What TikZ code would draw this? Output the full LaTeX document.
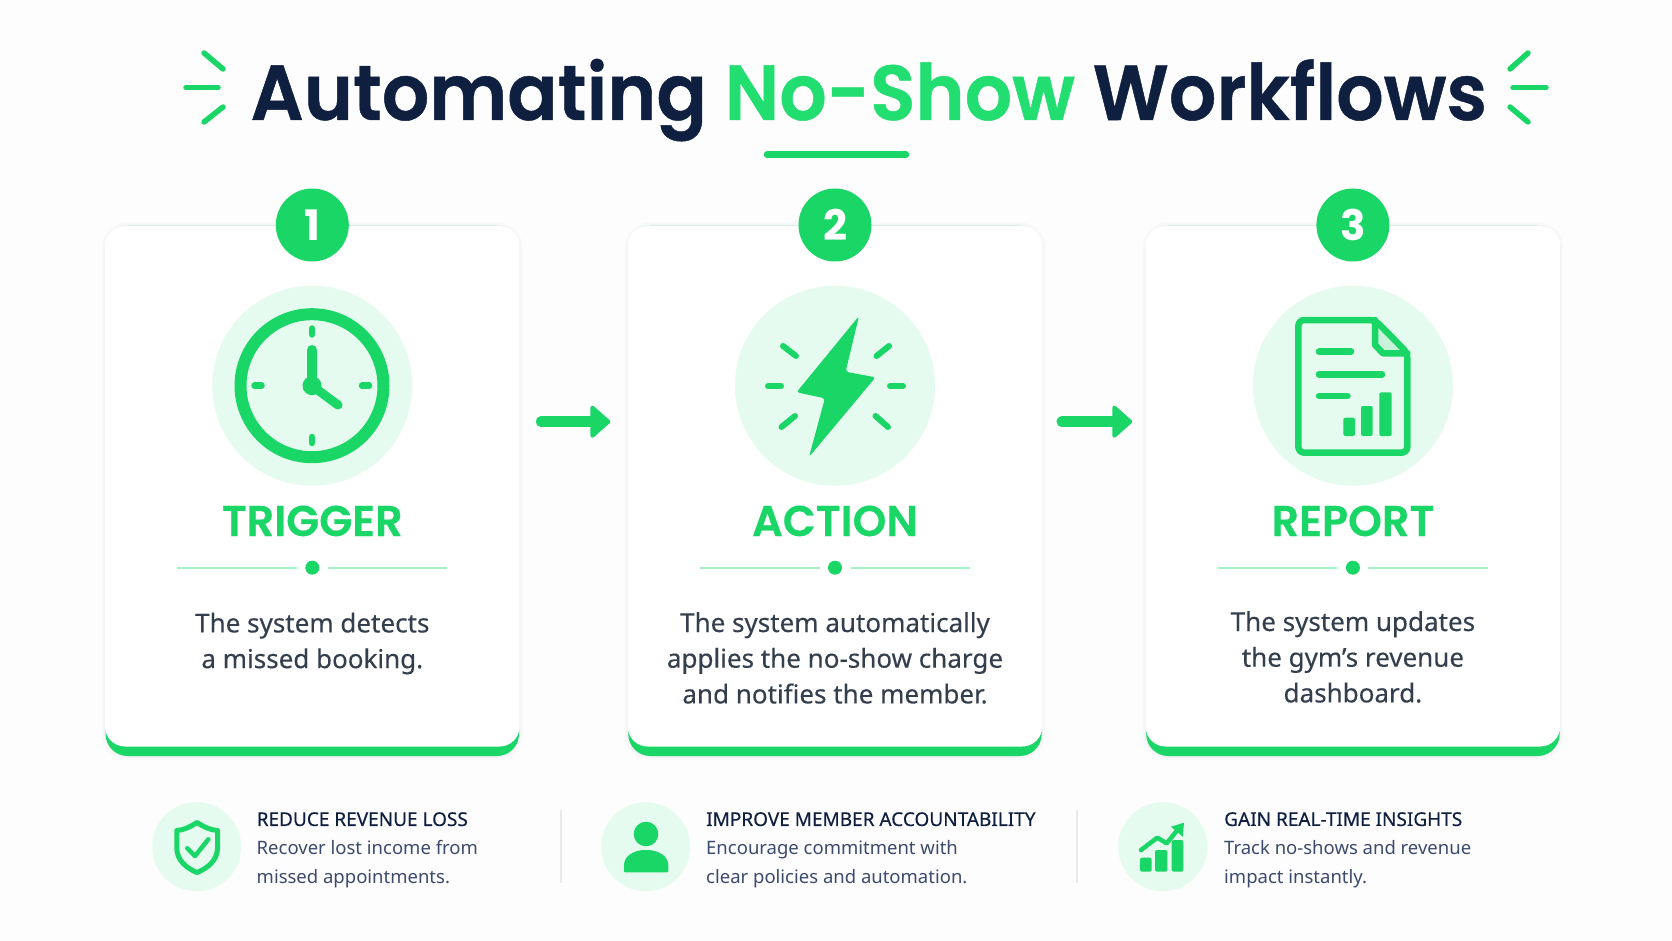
\documentclass[tikz,border=0pt]{standalone}
\usepackage{fontspec}
\usetikzlibrary{arrows.meta,positioning}
\setmainfont[FakeBold=0.2]{Noto Sans}
\newfontfamily\sidefont{Noto Sans}
\newfontfamily\sideheadfont[FakeBold=0.35]{Noto Sans}
\newfontfamily\headfont[FakeBold=0.4]{Poppins SemiBold}
\newfontfamily\titlefont[FakeBold=0.6,FakeStretch=0.954]{Poppins SemiBold}
\newfontfamily\numfont{Poppins}
\definecolor{pagebg}{HTML}{FDFDFE}
\definecolor{mint}{HTML}{1AD666}
\definecolor{titlemint}{HTML}{22DE70}
\definecolor{palemint}{HTML}{E6FBEF}
\definecolor{rulemint}{HTML}{A5F0C5}
\definecolor{foldmint}{HTML}{C8F2D9}
\definecolor{navy}{HTML}{0F1F40}
\definecolor{bodygray}{HTML}{343F4E}
\definecolor{sidetext}{HTML}{3C4A6B}
\definecolor{cardline}{HTML}{F0F1F3}
\definecolor{cardsoft}{HTML}{F8F8FA}
\tikzset{
    cardedge/.style={rectangle,draw=cardline,line width=2.5pt,fill=white,rounded corners=22pt,minimum width=413.4pt,minimum height=530pt,inner sep=0pt,outer sep=0pt,preaction={draw=cardsoft,line width=7pt}},
    cardbase/.style={rectangle,fill=mint,rounded corners=22pt,minimum width=413.4pt,minimum height=530pt,inner sep=0pt,outer sep=0pt},
    cardface/.style={rectangle,fill=white,rounded corners=20pt,minimum width=414.6pt,minimum height=520.5pt,inner sep=0pt,outer sep=0pt},
    numdot/.style={circle,fill=mint,text=white,minimum size=73pt,inner sep=0pt,font=\numfont\bfseries\fontsize{42}{42}\selectfont},
    iconback/.style={circle,fill=palemint,minimum size=200pt,inner sep=0pt},
    smallback/.style={circle,fill=palemint,minimum size=89pt,inner sep=0pt},
    stephead/.style={anchor=base,text=mint,font=\headfont\fontsize{43}{43}\selectfont},
    stepbody/.style={align=center,text=bodygray,font=\fontsize{26}{35.7}\selectfont},
    sidebody/.style={anchor=north west,align=left,inner sep=0pt,text=sidetext,font=\sidefont\fontsize{18.5}{29}\selectfont},
    ink/.style={draw=mint,line cap=round,line join=round},
    flowarrow/.style={ink,line width=10.5pt,-{Triangle[length=21pt,width=36pt,line width=4pt,round]}},
}
\begin{document}
\begin{tikzpicture}[x=1pt,y=-1pt]
    \fill[pagebg] (0,0) rectangle (1672,941);
    \useasboundingbox (0,0) rectangle (1672,941);

    \node[anchor=base,inner sep=0pt,text=navy,font=\titlefont\fontsize{78}{78}\selectfont] (title) at (868.8,120) {Automating {\color{titlemint}No-Show} Workflows};
    \draw[ink,line width=6.5pt] (767,154.7) -- (906,154.7);

    \draw[ink,line width=5.5pt] (204,53) -- (223,69);
    \draw[ink,line width=5.5pt] (186,87.7) -- (218,87.7);
    \draw[ink,line width=5.5pt] (223,107) -- (204,122);
    \draw[ink,line width=5.5pt] (1528,53) -- (1510,69);
    \draw[ink,line width=5.5pt] (1513,87.7) -- (1546,87.7);
    \draw[ink,line width=5.5pt] (1510,107) -- (1528,122);

    \foreach \cx/\nm/\lab in {312.3/1/TRIGGER,835/2/ACTION,1352.9/3/REPORT}{
        \node[cardedge] (card\nm) at (\cx,491) {};
        \node[cardbase] (base\nm) at (\cx,491) {};
        \node[cardface] (face\nm) at (\cx,486.25) {};
        \node[numdot] (num\nm) at (\cx,225) {\nm};
        \node[iconback] (icon\nm) at (\cx,385.7) {};
        \node[stephead] (head\nm) at (\cx,536) {\lab};
        \fill[mint] (\cx,567.7) circle (7pt);
        \draw[rulemint,line width=2pt] (\cx-135,567.7) -- (\cx-15.5,567.7);
        \draw[rulemint,line width=2pt] (\cx+15.5,567.7) -- (\cx+135,567.7);
    }

    \draw[flowarrow,shorten <=22pt,shorten >=18pt] ([yshift=69.3pt]card1.east) -- ([yshift=69.3pt]card2.west);
    \draw[flowarrow,shorten <=20pt,shorten >=14pt] ([yshift=69.3pt]card2.east) -- ([yshift=69.3pt]card3.west);

    \node[stepbody] (text1) at (312.3,643.5) {The system detects\\a missed booking.};
    \node[stepbody] (text2) at (835,658) {The system automatically\\applies the no-show charge\\and notifies the member.};
    \node[stepbody] (text3) at (1352.9,657) {The system updates\\the gym's revenue\\dashboard.};

    \draw[ink,line width=12pt] (312,385.7) circle (71.5pt);
    \draw[ink,line width=6.5pt] (312,328.5) -- (312,334.5);
    \draw[ink,line width=6.5pt] (312,437) -- (312,443);
    \draw[ink,line width=6.5pt] (254.5,385.7) -- (261.5,385.7);
    \draw[ink,line width=6.5pt] (362,385.7) -- (369,385.7);
    \draw[ink,line width=10pt] (312,385.7) -- (312,350);
    \draw[ink,line width=9pt] (312,385.7) -- (338,405);
    \fill[mint] (312,385.7) circle (9.5pt);

    \fill[mint,rounded corners=3pt] (859,316) -- (796.5,392.3) -- (824.9,398.3) -- (809,457) -- (875.5,377.3) -- (845.6,371.7) -- cycle;
    \draw[ink,line width=6pt] (783,346) -- (796,356);
    \draw[ink,line width=6pt] (889,346) -- (876.5,356);
    \draw[ink,line width=6pt] (768,386) -- (781,386);
    \draw[ink,line width=6pt] (890,386) -- (903,386);
    \draw[ink,line width=6pt] (781.5,427) -- (795,416);
    \draw[ink,line width=6pt] (888,427) -- (875.5,416);

    \fill[foldmint] (1375,320) -- (1407.4,353.3) -- (1383,353.3) -- (1375,345) -- cycle;
    \draw[ink,line width=6.5pt,rounded corners=6pt] (1298.3,320) -- (1375,320) -- (1407.4,353) -- (1407.4,452.7) -- (1298.3,452.7) -- cycle;
    \draw[ink,line width=6.5pt] (1375,320) -- (1375,345) -- (1383,353.3) -- (1407.4,353.3);
    \draw[ink,line width=6.5pt] (1319,351.7) -- (1351,351.7);
    \draw[ink,line width=6.5pt] (1319,374.3) -- (1382,374.3);
    \draw[ink,line width=6.5pt] (1319,396) -- (1347.5,396);
    \fill[mint,rounded corners=2pt] (1343.3,417.7) rectangle (1355,436);
    \fill[mint,rounded corners=2pt] (1361,406) rectangle (1372.7,436);
    \fill[mint,rounded corners=2pt] (1379.3,392.3) rectangle (1391.7,436);

    \node[smallback] (small1) at (196.7,846.7) {};
    \node[smallback] (small2) at (645.7,846.7) {};
    \node[smallback] (small3) at (1162.7,846.7) {};

    \draw[ink,line width=5pt] (197,822.5) .. controls (190,827) and (184,830) .. (176.8,830.5) -- (176.8,848) .. controls (176.8,860) and (186,868) .. (197,872.5) .. controls (208,868) and (217.5,860) .. (217.5,848) -- (217.5,830.5) .. controls (210,830) and (204,827) .. (197,822.5) -- cycle;
    \draw[ink,line width=4.5pt] (187.3,848.3) -- (195,856) -- (208.3,839.3);

    \fill[mint] (646,834) circle (12.3pt);
    \fill[mint,rounded corners=1pt] (624,872.3) -- (624,866) .. controls (624,856) and (634,850) .. (646,850) .. controls (658,850) and (668.3,856) .. (668.3,866) -- (668.3,872.3) -- cycle;

    \fill[mint,rounded corners=2pt] (1140,857.7) rectangle (1151.7,871.7);
    \fill[mint,rounded corners=2pt] (1155,850) rectangle (1167.3,871.7);
    \fill[mint,rounded corners=2pt] (1171.7,840) rectangle (1183.3,871.7);
    \draw[ink,line width=4.5pt] (1141,850) -- (1157.3,837.7) -- (1166.7,843.3) -- (1179,828);
    \fill[mint] (1171,826.7) -- (1184,822.7) -- (1182.7,836.7) -- cycle;

    \node[sidebody] (side1) at (256.5,812) {{\sideheadfont\fontsize{19}{29}\selectfont\color{navy}REDUCE REVENUE LOSS}\\Recover lost income from\\missed appointments.};
    \node[sidebody] (side2) at (706,812) {{\sideheadfont\fontsize{19}{29}\selectfont\color{navy}IMPROVE MEMBER ACCOUNTABILITY}\\Encourage commitment with\\clear policies and automation.};
    \node[sidebody] (side3) at (1224,812) {{\sideheadfont\fontsize{19}{29}\selectfont\color{navy}GAIN REAL-TIME INSIGHTS}\\Track no-shows and revenue\\impact instantly.};

    \draw[cardline!80!gray!60,line width=2pt] (560.7,810) -- (560.7,883);
    \draw[cardline!80!gray!60,line width=2pt] (1077,810) -- (1077,883);
\end{tikzpicture}
\end{document}
